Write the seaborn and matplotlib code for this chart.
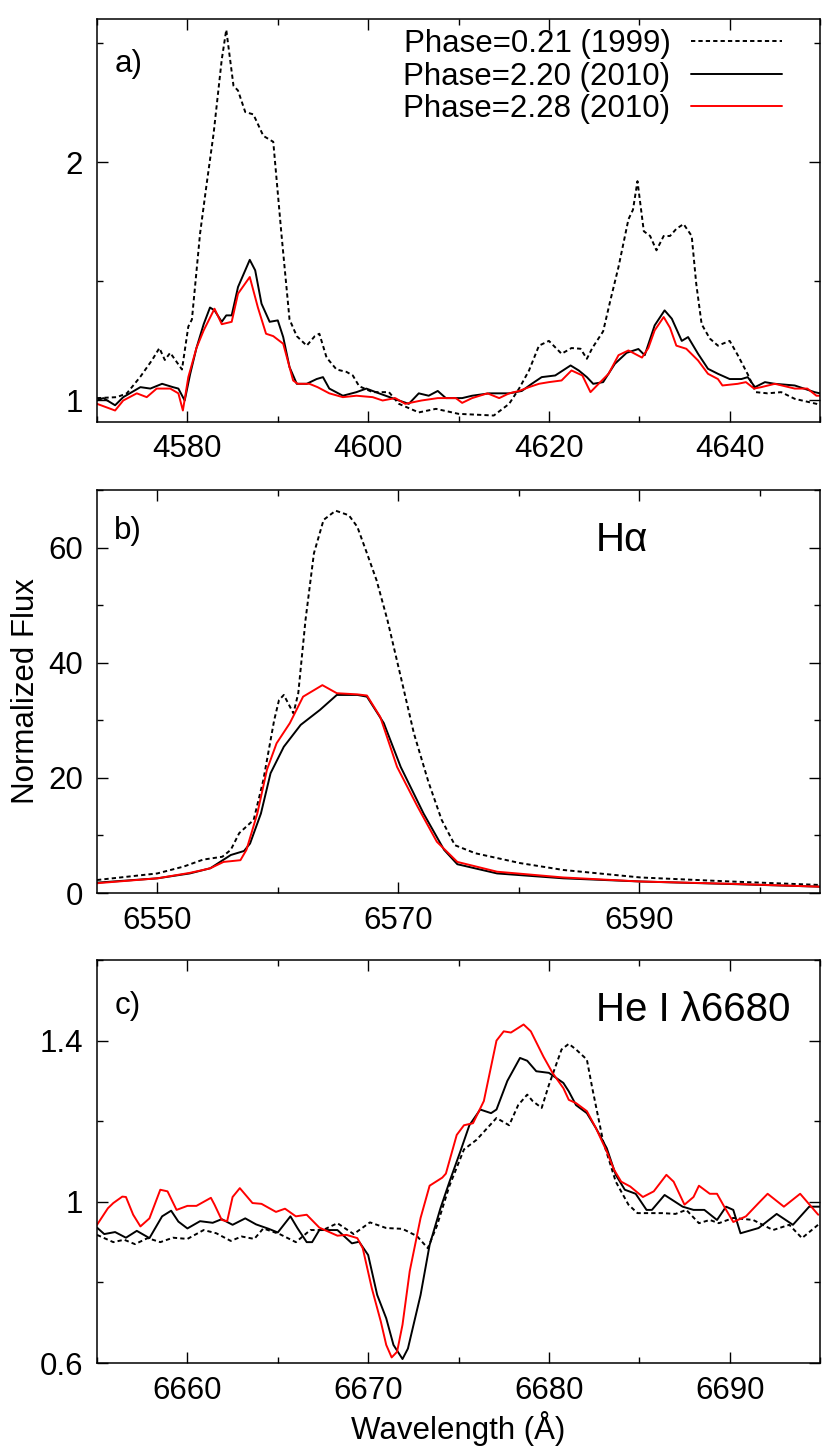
import matplotlib.pyplot as plt
import pandas as pd
import seaborn as sns
from matplotlib.ticker import FormatStrFormatter, MultipleLocator

# ---- panel a: 4570-4650 A region ----
wl_a_1999 = [4570.0, 4572.2, 4573.3, 4574.8, 4576.1, 4576.9, 4577.5, 4578.1, 4579.4, 4580.1, 4580.5,
             4581.4, 4582.1, 4582.9, 4583.8, 4584.3, 4585.1, 4585.6, 4586.4, 4587.3, 4588.4, 4589.5,
             4590.4, 4591.3, 4592.1, 4593.2, 4594.1, 4594.6, 4595.4, 4596.5, 4597.6, 4598.3, 4599.0,
             4600.5, 4602.3, 4603.4, 4605.6, 4607.5, 4610.0, 4613.9, 4615.6, 4616.7, 4617.8, 4618.9,
             4620.0, 4621.4, 4622.5, 4623.5, 4624.2, 4624.8, 4626.0, 4626.8, 4627.7, 4628.8, 4629.3,
             4629.8, 4630.5, 4631.2, 4631.9, 4632.7, 4633.4, 4634.1, 4634.9, 4635.8, 4636.3, 4636.9,
             4637.8, 4638.7, 4640.0, 4640.9, 4642.0, 4642.9, 4644.2, 4645.7, 4647.2, 4649.6, 4650.0]
fx_a_1999 = [1.01, 1.014, 1.03, 1.10, 1.17, 1.22, 1.17, 1.20, 1.13, 1.31, 1.34,
             1.70, 1.90, 2.12, 2.43, 2.555, 2.32, 2.30, 2.21, 2.20, 2.11, 2.085,
             1.70, 1.34, 1.27, 1.23, 1.27, 1.28, 1.18, 1.13, 1.12, 1.105, 1.06,
             1.035, 1.035, 0.986, 0.95, 0.965, 0.944, 0.937, 0.986, 1.05, 1.126, 1.23,
             1.25, 1.196, 1.22, 1.217, 1.175, 1.22, 1.29, 1.42, 1.56, 1.76, 1.80,
             1.92, 1.71, 1.69, 1.63, 1.69, 1.69, 1.72, 1.74, 1.69, 1.49, 1.32,
             1.26, 1.23, 1.25, 1.19, 1.11, 1.035, 1.03, 1.035, 1.007, 0.986, 0.98]

wl_a_2010a = [4570.0, 4570.7, 4572.0, 4572.9, 4574.8, 4575.9, 4577.2, 4578.4, 4579.0, 4579.7, 4580.3,
              4581.0, 4581.8, 4582.5, 4583.0, 4583.8, 4584.3, 4584.9, 4585.6, 4586.4, 4586.9, 4587.5,
              4588.2, 4589.1, 4590.0, 4590.6, 4591.3, 4592.1, 4593.2, 4594.3, 4595.0, 4595.7, 4597.2,
              4598.7, 4599.8, 4601.2, 4603.4, 4604.5, 4605.6, 4606.7, 4607.7, 4608.6, 4610.4, 4611.5,
              4613.4, 4615.6, 4617.0, 4618.1, 4619.2, 4620.7, 4622.4, 4623.3, 4624.2, 4624.9, 4626.0,
              4627.3, 4628.6, 4629.9, 4630.6, 4631.7, 4632.8, 4633.6, 4634.7, 4635.4, 4636.5, 4637.6,
              4638.7, 4640.0, 4641.3, 4642.0, 4642.8, 4643.9, 4645.0, 4647.2, 4649.4, 4650.0]
fx_a_2010a = [1.0, 1.01, 0.98, 1.014, 1.056, 1.05, 1.07, 1.056, 1.05, 1.0, 1.11,
              1.22, 1.32, 1.39, 1.378, 1.33, 1.357, 1.357, 1.476, 1.546, 1.59, 1.546,
              1.406, 1.33, 1.336, 1.266, 1.14, 1.07, 1.07, 1.09, 1.098, 1.05, 1.02,
              1.035, 1.05, 1.03, 1.0, 0.986, 1.03, 1.02, 1.04, 1.01, 1.01, 1.02,
              1.03, 1.03, 1.04, 1.07, 1.098, 1.105, 1.147, 1.126, 1.098, 1.07, 1.077,
              1.154, 1.20, 1.216, 1.19, 1.315, 1.378, 1.343, 1.25, 1.266, 1.196, 1.133,
              1.112, 1.09, 1.09, 1.098, 1.056, 1.077, 1.07, 1.063, 1.035, 1.03]

wl_a_2010b = [4570.0, 4572.0, 4572.9, 4574.4, 4575.5, 4576.6, 4578.1, 4579.0, 4579.5, 4580.1, 4581.0,
              4581.8, 4583.0, 4583.8, 4584.9, 4585.6, 4586.9, 4587.8, 4588.7, 4589.5, 4590.6, 4591.7,
              4592.2, 4593.5, 4594.4, 4595.7, 4597.2, 4598.7, 4600.5, 4601.6, 4603.0, 4604.1, 4605.9,
              4607.7, 4609.7, 4610.4, 4611.5, 4613.2, 4614.5, 4615.6, 4616.7, 4617.8, 4618.9, 4620.0,
              4621.4, 4622.5, 4623.7, 4624.6, 4625.5, 4626.6, 4627.7, 4628.8, 4630.3, 4631.0, 4631.7,
              4632.7, 4633.4, 4634.1, 4635.2, 4636.5, 4637.6, 4638.7, 4639.2, 4640.9, 4641.8, 4642.7,
              4643.5, 4645.0, 4647.2, 4648.6, 4649.6, 4650.0]
fx_a_2010b = [0.986, 0.958, 1.0, 1.03, 1.014, 1.05, 1.05, 1.03, 0.958, 1.098, 1.22,
              1.294, 1.385, 1.32, 1.33, 1.448, 1.518, 1.39, 1.28, 1.27, 1.238, 1.084,
              1.07, 1.07, 1.056, 1.03, 1.014, 1.02, 1.014, 1.0, 1.01, 0.986, 1.0,
              1.01, 1.01, 0.99, 1.01, 1.03, 1.01, 1.03, 1.04, 1.056, 1.07, 1.077,
              1.084, 1.126, 1.105, 1.035, 1.07, 1.112, 1.19, 1.21, 1.18, 1.22, 1.294,
              1.35, 1.305, 1.23, 1.217, 1.168, 1.112, 1.09, 1.063, 1.07, 1.077, 1.05,
              1.056, 1.07, 1.05, 1.05, 1.02, 1.02]

# ---- panel b: H-alpha ----
wl_b_1999 = [6545.0, 6550.0, 6552.2, 6553.8, 6555.4, 6556.1, 6556.8, 6558.0, 6558.8, 6559.7, 6560.1,
             6560.5, 6561.3, 6561.7, 6562.3, 6563.0, 6563.8, 6564.8, 6565.9, 6566.6, 6567.4, 6568.2,
             6569.1, 6570.2, 6571.3, 6572.5, 6573.6, 6574.7, 6576.4, 6580.1, 6583.7, 6590.1, 6597.6,
             6605.0]
fx_b_1999 = [2.26, 3.4, 4.6, 5.8, 6.3, 7.5, 10.4, 12.7, 19.6, 30.0, 33.5,
             34.4, 31.2, 34.7, 47.4, 59.0, 64.8, 66.4, 65.6, 63.6, 59.0, 54.3,
             47.4, 37.6, 27.7, 19.3, 12.7, 8.3, 6.9, 5.2, 4.0, 2.7, 2.0,
             1.4]

wl_b_2010a = [6545.0, 6550.0, 6552.7, 6554.4, 6556.1, 6557.2, 6557.7, 6558.6, 6559.4, 6560.5, 6561.9,
              6563.5, 6564.9, 6566.6, 6567.4, 6568.8, 6570.2, 6572.1, 6573.8, 6574.9, 6578.2, 6583.7,
              6590.1, 6597.6, 6605.0]
fx_b_2010a = [1.8, 2.55, 3.4, 4.3, 6.6, 7.3, 8.6, 13.8, 20.8, 25.4, 29.2,
              31.8, 34.4, 34.4, 34.1, 29.5, 21.9, 13.8, 7.5, 5.0, 3.4, 2.55,
              2.0, 1.56, 1.1]

wl_b_2010b = [6545.0, 6550.0, 6552.7, 6553.8, 6554.4, 6555.5, 6556.9, 6557.4, 6558.3, 6559.1, 6559.9,
              6561.0, 6562.1, 6563.7, 6564.9, 6566.6, 6567.4, 6568.5, 6569.9, 6571.6, 6573.2, 6574.9,
              6578.2, 6583.7, 6590.1, 6597.6, 6605.0]
fx_b_2010b = [1.7, 2.55, 3.5, 4.0, 4.3, 5.4, 5.7, 7.5, 13.8, 21.4, 26.0,
              29.5, 34.1, 36.1, 34.7, 34.5, 34.3, 30.6, 21.9, 15.0, 8.9, 5.4,
              3.7, 2.7, 2.0, 1.6, 1.1]

# ---- panel c: He I 6680 ----
wl_c_1999 = [6655.0, 6655.9, 6656.5, 6657.1, 6657.8, 6658.5, 6659.2, 6660.0, 6660.9, 6661.6, 6662.4,
             6663.0, 6663.7, 6664.2, 6665.1, 6666.0, 6666.8, 6667.5, 6668.3, 6669.2, 6670.1, 6671.0,
             6671.9, 6672.7, 6673.3, 6673.8, 6674.5, 6675.3, 6676.0, 6677.1, 6677.8, 6678.3, 6678.8,
             6679.1, 6679.6, 6680.0, 6680.7, 6681.1, 6681.5, 6682.1, 6682.4, 6683.0, 6683.7, 6684.4,
             6684.9, 6686.3, 6687.0, 6687.6, 6688.3, 6688.9, 6689.4, 6690.2, 6691.3, 6692.4, 6693.3,
             6694.0, 6695.0]
fx_c_1999 = [0.918, 0.90, 0.906, 0.895, 0.91, 0.90, 0.911, 0.908, 0.93, 0.922, 0.903,
             0.914, 0.908, 0.934, 0.92, 0.90, 0.93, 0.93, 0.947, 0.92, 0.949, 0.935,
             0.933, 0.915, 0.885, 0.94, 1.04, 1.13, 1.154, 1.208, 1.19, 1.24, 1.266,
             1.25, 1.233, 1.29, 1.378, 1.392, 1.378, 1.353, 1.282, 1.15, 1.05, 0.993,
             0.972, 0.972, 0.97, 0.98, 0.947, 0.955, 0.947, 0.96, 0.955, 0.93, 0.943,
             0.91, 0.947]

wl_c_2010a = [6655.0, 6655.4, 6656.0, 6656.6, 6657.2, 6657.9, 6658.6, 6659.1, 6659.5, 6660.0, 6660.7,
              6661.4, 6661.9, 6662.5, 6663.2, 6663.8, 6664.5, 6665.0, 6665.7, 6666.1, 6666.6, 6666.9,
              6667.3, 6668.3, 6669.1, 6669.5, 6670.0, 6670.5, 6671.0, 6671.4, 6671.9, 6672.2, 6672.9,
              6673.4, 6674.0, 6674.5, 6675.1, 6675.6, 6676.2, 6676.8, 6677.1, 6677.7, 6678.4, 6678.8,
              6679.3, 6680.0, 6680.8, 6681.1, 6681.5, 6682.1, 6682.6, 6683.2, 6683.7, 6684.2, 6684.8,
              6685.4, 6685.7, 6686.4, 6687.4, 6688.0, 6688.6, 6689.3, 6689.8, 6690.2, 6690.6, 6691.6,
              6692.6, 6693.5, 6694.4, 6695.0]
fx_c_2010a = [0.936, 0.92, 0.925, 0.911, 0.928, 0.91, 0.964, 0.978, 0.951, 0.934, 0.952,
              0.948, 0.957, 0.943, 0.959, 0.944, 0.933, 0.924, 0.964, 0.934, 0.90, 0.90,
              0.93, 0.93, 0.897, 0.901, 0.868, 0.769, 0.711, 0.645, 0.61, 0.636, 0.769,
              0.893, 0.984, 1.05, 1.125, 1.19, 1.229, 1.22, 1.229, 1.30, 1.357, 1.35,
              1.324, 1.32, 1.295, 1.274, 1.24, 1.22, 1.183, 1.133, 1.067, 1.03, 1.02,
              0.98, 0.98, 1.017, 0.988, 0.98, 0.98, 0.955, 0.988, 0.98, 0.922, 0.935,
              0.97, 0.943, 0.988, 0.988]

wl_c_2010b = [6655.0, 6655.6, 6655.9, 6656.4, 6656.6, 6657.0, 6657.4, 6657.9, 6658.5, 6658.9, 6659.4,
              6660.0, 6660.5, 6661.3, 6661.5, 6661.9, 6662.2, 6662.5, 6662.9, 6663.6, 6664.1, 6664.9,
              6665.4, 6666.0, 6666.6, 6667.3, 6668.3, 6668.8, 6669.4, 6669.7, 6670.2, 6670.7, 6671.0,
              6671.3, 6671.6, 6671.9, 6672.3, 6672.9, 6673.4, 6674.1, 6674.3, 6674.9, 6675.3, 6675.8,
              6676.4, 6677.1, 6677.5, 6677.9, 6678.6, 6679.0, 6679.7, 6680.2, 6680.8, 6681.1, 6681.5,
              6682.1, 6682.6, 6683.2, 6683.6, 6684.0, 6684.5, 6685.2, 6685.8, 6686.5, 6686.9, 6687.5,
              6688.0, 6688.3, 6688.9, 6689.3, 6689.7, 6690.2, 6690.9, 6691.6, 6692.1, 6693.0, 6693.9,
              6694.9]
fx_c_2010b = [0.943, 0.984, 0.997, 1.013, 1.012, 0.968, 0.939, 0.959, 1.03, 1.026, 0.98,
              0.99, 0.99, 1.01, 0.993, 0.955, 0.952, 1.012, 1.034, 0.997, 0.995, 0.975,
              0.983, 0.964, 0.968, 0.936, 0.916, 0.918, 0.91, 0.885, 0.786, 0.703, 0.645,
              0.614, 0.628, 0.695, 0.828, 0.96, 1.04, 1.06, 1.07, 1.166, 1.19, 1.195,
              1.25, 1.40, 1.423, 1.42, 1.44, 1.423, 1.36, 1.32, 1.282, 1.253, 1.245,
              1.225, 1.183, 1.125, 1.08, 1.05, 1.038, 1.012, 1.026, 1.067, 1.05, 0.993,
              1.012, 1.04, 1.02, 1.02, 0.988, 0.95, 0.964, 0.997, 1.02, 0.988, 1.02,
              0.968]

phase_labels = ["Phase=0.21 (1999)", "Phase=2.20 (2010)", "Phase=2.28 (2010)"]
line_colors = ["black", "black", "#ff0000"]
line_styles = [(0, (2.2, 1.6)), "-", "-"]

sns.set_theme(style="ticks", rc={"text.color": "black", "axes.labelcolor": "black",
                                 "xtick.color": "black", "ytick.color": "black",
                                 "axes.edgecolor": "black"})
plt.rcParams["font.family"] = ["Liberation Sans", "DejaVu Sans"]

FS = 22.5


def style_axes(ax, xlim, ylim, xmaj, xmin, ymaj, ymin, xoff=0, yoff=0):
    ax.set_xlim(*xlim)
    ax.set_ylim(*ylim)
    ax.xaxis.set_major_locator(MultipleLocator(xmaj, offset=xoff))
    ax.xaxis.set_minor_locator(MultipleLocator(xmin))
    ax.yaxis.set_major_locator(MultipleLocator(ymaj, offset=yoff))
    ax.yaxis.set_minor_locator(MultipleLocator(ymin))
    ax.yaxis.set_major_formatter(FormatStrFormatter("%g"))
    ax.xaxis.set_major_formatter(FormatStrFormatter("%g"))
    ax.tick_params(which="both", direction="in", top=True, right=True, width=1.0, color="black")
    ax.tick_params(which="major", length=8)
    ax.tick_params(which="minor", length=4.3)
    ax.tick_params(axis="x", labelsize=FS, pad=9, labelcolor="black")
    ax.tick_params(axis="y", labelsize=FS, pad=10, labelcolor="black")
    for sp in ax.spines.values():
        sp.set_visible(True)
        sp.set_linewidth(1.1)
        sp.set_color("black")
    ax.set_xlabel("")
    ax.set_ylabel("")


def draw_panel(ax, series):
    for (wl, fx), lab, col, ls in zip(series, phase_labels, line_colors, line_styles):
        df = pd.DataFrame({"wavelength": wl, "flux": fx})
        sns.lineplot(data=df, x="wavelength", y="flux", ax=ax, color=col, linestyle=ls,
                     linewidth=1.4, estimator=None, sort=True, label=lab, legend=False)


fig = plt.figure(figsize=(8.3, 14.53), dpi=100)
left, width = 0.1169, 0.8711
ax_a = fig.add_axes([left, 0.7096, width, 0.2773])
ax_b = fig.add_axes([left, 0.3854, width, 0.2774])
ax_c = fig.add_axes([left, 0.0619, width, 0.2774])

draw_panel(ax_a, [(wl_a_1999, fx_a_1999), (wl_a_2010a, fx_a_2010a), (wl_a_2010b, fx_a_2010b)])
draw_panel(ax_b, [(wl_b_1999, fx_b_1999), (wl_b_2010a, fx_b_2010a), (wl_b_2010b, fx_b_2010b)])
draw_panel(ax_c, [(wl_c_1999, fx_c_1999), (wl_c_2010a, fx_c_2010a), (wl_c_2010b, fx_c_2010b)])

style_axes(ax_a, (4570, 4650), (0.91, 2.6), 20, 10, 1, 0.5)
style_axes(ax_b, (6545, 6605), (0, 70), 20, 10, 20, 10, xoff=10)
style_axes(ax_c, (6655, 6695), (0.6, 1.6), 10, 5, 0.4, 0.2, yoff=0.2)

# legend: text first, line sample on the right (gnuplot style)
handles, labels = ax_a.get_legend_handles_labels()
ax_a.legend(handles, labels, loc="upper right", bbox_to_anchor=(0.947, 0.975), frameon=False,
            markerfirst=False, fontsize=FS, handlelength=2.9, handletextpad=0.66,
            labelspacing=0.08, borderpad=0, borderaxespad=0)

for ax, tag, y in [(ax_a, "a)", 0.889), (ax_b, "b)", 0.898), (ax_c, "c)", 0.887)]:
    ax.text(0.024, y, tag, transform=ax.transAxes, fontsize=FS, ha="left", va="center")

ax_b.text(0.69, 0.876, "H\u03b1", transform=ax_b.transAxes, fontsize=29, ha="left", va="center")
ax_c.text(0.69, 0.876, "He I \u03bb6680", transform=ax_c.transAxes, fontsize=29, ha="left",
          va="center")

ax_b.set_ylabel("Normalized Flux", fontsize=FS)
ax_b.yaxis.set_label_coords(-0.077, 0.5)
ax_c.set_xlabel("Wavelength (\u00c5)", fontsize=FS)
ax_c.xaxis.set_label_coords(0.5, -0.12)

fig.savefig("out.png", dpi=100)
